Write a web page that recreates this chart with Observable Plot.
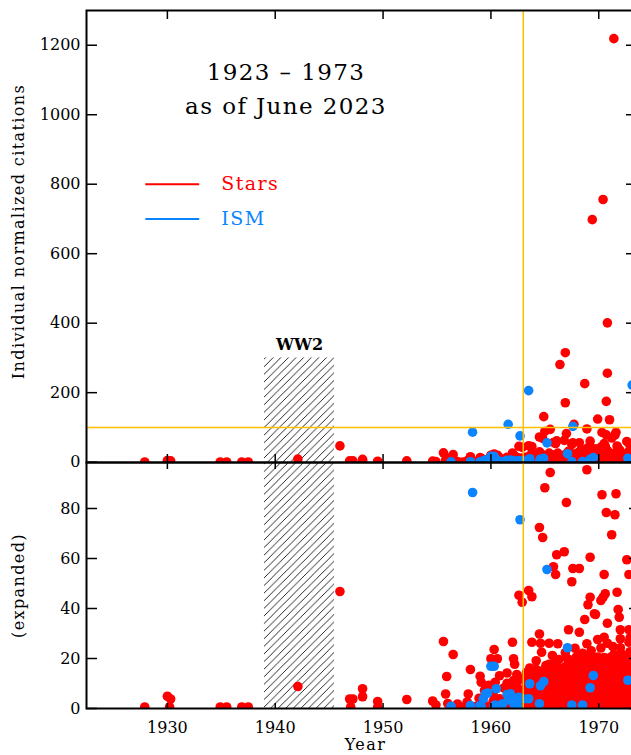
<!DOCTYPE html>
<html><head><meta charset="utf-8">
<script src="https://cdn.jsdelivr.net/npm/d3@7"></script>
<script src="https://cdn.jsdelivr.net/npm/@observablehq/plot@0.6"></script>
<style>
html,body{margin:0;padding:0;background:#fff;overflow:hidden;width:631px;height:755px;}
#wrap{position:relative;width:631px;height:755px;overflow:hidden;}
#wrap svg{position:absolute;left:0;}
</style></head><body><div id="wrap"></div>
<script>
// ---------- data ----------
const xTicks = [1930, 1940, 1950, 1960, 1970];
const topTicks = [0, 200, 400, 600, 800, 1000, 1200];
const lowTicks = [0, 20, 40, 60, 80];
const titleLines = ["1923 \u2013 1973", "as of June 2023"];
const legendLabels = ["Stars", "ISM"];
const axisTitles = ["Individual normalized citations", "(expanded)", "Year"];
const war = [{label: "WW2", start: 1939, end: 1945.5, height: 300}];
const cutYear = [1963];
const cutCites = [100];

// Stars papers: [year, normalized citations]
const stars = [
  [1927.9,0.6],[1930.0,4.9],[1930.3,3.8],[1930.2,0.6],[1934.9,0.6],[1935.5,0.6],[1936.9,0.6],[1937.5,0.6],
  [1942.1,8.8],[1946.0,46.8],[1946.9,3.8],[1947.2,3.8],[1947.0,0.6],[1948.1,7.9],[1948.1,4.7],[1949.5,2.8],
  [1949.5,0.6],[1952.2,3.6],[1954.6,3.0],[1954.9,1.4],[1955.8,5.8],[1956.0,2.0],[1955.6,26.8],[1956.5,21.6],
  [1955.9,12.8],[1957.9,5.8],[1958.1,15.6],[1959.0,12.9],[1959.1,10.5],[1960.4,10.5],[1960.3,23.6],[1960.0,19.9],
  [1960.6,19.9],[1962.1,19.9],[1962.2,17.7],[1962.0,26.5],
  [1965.5,94.4],[1968.9,95.5],[1965.0,88.3],[1970.3,85.5],[1971.6,85.9],[1967.0,82.4],[1970.7,78.4],[1971.5,77.5],
  [1964.5,72.4],[1964.8,68.4],[1971.2,69.5],[1966.1,61.5],[1966.8,62.7],[1969.2,60.5],[1972.6,59.5],[1965.8,56.7],
  [1966.0,53.6],[1967.6,56.0],[1968.2,56.0],[1970.5,53.6],[1972.8,53.6],[1967.5,50.7],[1962.6,45.3],[1962.9,42.5],
  [1963.5,47.2],[1963.8,44.7],[1969.2,44.5],[1970.4,44.5],[1970.6,45.9],[1969.0,41.5],[1971.7,46.5],[1971.8,39.6],
  [1969.7,37.6],[1968.7,35.6],[1970.8,34.1],[1972.8,31.5],[1967.2,31.5],[1968.2,30.5],[1964.5,29.8],[1972.0,31.5],
  [1972.0,27.9],[1969.9,27.6],[1970.5,28.5],[1971.3,24.8],[1972.8,26.5],[1972.9,22.7],[1968.9,25.9],[1968.2,21.2],
  [1968.5,22.1],[1963.8,26.5],[1964.6,26.1],[1965.4,26.1],[1966.2,25.9],[1964.7,22.5],[1971.9,36.5],[1971.1,20.5],
  [1969.1,21.2],[1967.9,20.5],[1967.1,19.9],[1965.4,17.7],[1966.0,18.6],[1972.1,21.9],[1970.2,43.2],[1969.6,37.9],
  [1971.4,1219],[1970.4,756],[1969.4,698],[1970.8,401],[1966.9,315],[1966.4,281],[1970.8,256],[1968.7,226],
  [1966.9,171],[1970.7,175],[1964.9,131],[1969.9,124],[1971.0,122],[1967.7,109]
];

// Dense low-citation Stars papers, by year: [year, [citations...]]
const starsDense = [
  [1956.4,[0.6]],[1956.9,[1.8]],[1957.4,[0.5]],[1957.8,[2.6]],[1958.5,[0.8]],[1958.9,[4.1]],
  [1959.4,[1.4,7.2]],[1959.8,[0.6,9.3]],[1960.2,[2.7,5.8]],[1960.8,[0.7,3.9,13.1]],[1961.2,[2.1,8.2]],
  [1961.5,[0.6,10.1,14.2]],[1961.8,[3.4,7.6]],[1962.1,[0.6,6.4,11.2]],[1962.4,[2.6,8.9,13.6]],
  [1962.7,[0.9,7.4,11.7]],[1963.0,[1.6,6.3,12.1]],[1963.3,[0.6,3.9,9.2,14.4]],[1963.6,[2.1,6.6,12.3,16.2]],
  [1963.9,[0.7,4.4,9.1,13.3]],[1964.2,[2.4,7.2,10.8,15.6,19.1]],[1964.5,[0.8,4.6,8.4,13.2]],
  [1964.8,[2.6,6.3,10.6,15.1]],[1965.1,[0.6,4.3,8.7,12.4,17.2]],[1965.4,[2.4,6.7,10.3,14.1]],
  [1965.7,[0.8,4.6,8.3,12.7,16.4,21.2]],[1966.0,[2.6,6.4,10.7,14.6]],[1966.3,[0.6,4.4,7.9,12.2,16.1,19.6]],
  [1966.6,[2.3,6.6,10.4,14.3]],[1966.9,[0.9,4.7,8.6,12.6,16.7,22.3]],[1967.2,[2.4,6.3,10.6,14.7,18.2]],
  [1967.5,[0.6,4.3,8.4,12.1,15.8]],[1967.8,[2.6,6.7,10.4,14.4,18.6,24.1]],[1968.1,[0.8,4.4,8.6,12.3,16.6]],
  [1968.4,[2.5,6.1,10.2,13.9,17.8]],[1968.7,[0.6,4.6,8.3,12.7,16.4,20.2]],[1969.0,[2.4,6.6,10.6,14.3,18.1]],
  [1969.3,[0.9,4.4,8.7,12.4,16.7,23.1]],[1969.6,[2.6,6.4,10.3,14.6,18.4]],[1969.9,[0.6,4.7,8.4,12.6,16.3,20.6]],
  [1970.2,[2.3,6.6,10.7,14.4,18.7,24.2]],[1970.5,[0.8,4.3,8.6,12.3,16.6,20.4]],[1970.8,[2.6,6.3,10.4,14.7,18.3,26.1]],
  [1971.1,[0.6,4.6,8.3,12.6,16.4]],[1971.4,[2.4,6.7,10.6,14.3,18.6,21.6]],[1971.7,[0.9,4.4,8.7,12.4,16.7,20.3]],
  [1972.0,[2.6,6.4,10.3,14.6,18.4,24.3]],[1972.3,[0.6,4.3,8.6,12.7,16.3]],[1972.6,[2.3,6.6,10.4,14.4,18.7,20.6]],
  [1972.9,[0.8,4.6,8.3,12.3,16.6,28.2]],[1973.2,[2.6,6.3,10.7,14.6]]
];

// ISM papers: [year, normalized citations]
const ism = [
  [1958.3,86.4],[1962.7,75.5],[1965.2,55.6],[1967.1,24.3],[1960.0,16.9],[1960.3,16.9],[1961.6,109],[1963.5,206],
  [1967.6,103],[1973.1,222],[1963.6,9.9],[1964.9,10.8],[1969.5,13.2],[1969.2,8.3],[1972.7,11.3],[1960.5,7.9],
  [1959.5,5.9],[1959.3,3.9],[1961.8,5.9],[1962.0,4.5],[1962.6,4.5],[1963.0,3.8],[1963.5,3.9],[1956.3,0.9],
  [1958.1,1.2],[1959.0,1.2],[1960.3,0.9],[1961.1,1.9],[1962.1,1.9],[1964.5,1.9],[1967.5,1.4],[1968.5,1.4],
  [1964.6,9.1],[1959.7,6.2],[1961.5,5.6],[1961.7,3.5],[1962.5,0.6],[1960.4,1.4],[1959.1,0.6],[1962.4,3.2]
];

// ---------- build ----------
const starsAll = stars.concat(starsDense.flatMap(([yr, vals]) => vals.map(v => [yr, v])));
const RED = "#ff0000", BLUE = "#0a84ff", ORANGE = "#ffbf00";
const FONT = "DejaVu Serif";
const xDomain = [1922.5, 1973.5];
const topDomain = [-1, 1300];
const lowDomain = [0, 98.4];
const W = 646, ML = 86, MR = 10;
const fmt = d => String(d);

function hatchDefs(svg, id) {
  d3.select(svg).insert("defs", ":first-child").html(
    `<pattern id="${id}" patternUnits="userSpaceOnUse" width="7.6" height="7.6">` +
    `<path d="M0,7.6L7.6,0M-1,1L1,-1M6.6,8.6L8.6,6.6" stroke="#111" stroke-width="0.9"/></pattern>`);
}
function spacing(svg) {
  d3.select(svg).selectAll('g[aria-label="text"] text')
    .filter(function() { return this.textContent !== "WW2"; })
    .style("letter-spacing", "1.4px");
}
const baseStyle = {fontFamily: FONT, fontSize: "16px", background: "transparent", overflow: "visible", maxWidth: "none", color: "#000"};
const dotsOpts = (c) => ({x: d => d[0], y: d => d[1], r: 4.8, fill: c, clip: true});

const topPlot = Plot.plot({
  width: W, height: 462, marginTop: 10, marginBottom: 0, marginLeft: ML, marginRight: MR,
  style: baseStyle,
  x: {domain: xDomain, axis: null},
  y: {domain: topDomain, axis: null},
  marks: [
    Plot.rect(war, {x1: "start", x2: "end", y1: topDomain[0], y2: "height", fill: "url(#hatchTop)"}),
    Plot.dot(starsAll, dotsOpts(RED)),
    Plot.dot(ism, dotsOpts(BLUE)),
    Plot.ruleX(cutYear, {stroke: ORANGE, strokeWidth: 1.5}),
    Plot.ruleY(cutCites, {stroke: ORANGE, strokeWidth: 1.5}),
    Plot.frame({stroke: "#000", strokeWidth: 2}),
    Plot.axisY({ticks: topTicks, anchor: "left", tickSize: -11, tickPadding: 17, strokeWidth: 1.5, label: null, tickFormat: fmt}),
    Plot.axisY({ticks: topTicks, anchor: "right", tickSize: -11, fill: "none", strokeWidth: 1.5, label: null}),
    Plot.axisX({ticks: xTicks, anchor: "top", tickSize: -8, fill: "none", strokeWidth: 1.5, label: null}),
    Plot.axisX({ticks: xTicks, anchor: "bottom", tickSize: -8, fill: "none", strokeWidth: 1.5, label: null}),
    Plot.text([titleLines[0]], {x: 1941, y: 1120, text: d => d, fontSize: 23, fill: "#000"}),
    Plot.text([titleLines[1]], {x: 1941, y: 1023, text: d => d, fontSize: 23, fill: "#000"}),
    Plot.ruleY([legendLabels[0]], {x1: 1928, x2: 1933, y: () => 800, stroke: RED, strokeWidth: 2}),
    Plot.ruleY([legendLabels[1]], {x1: 1928, x2: 1933, y: () => 700, stroke: BLUE, strokeWidth: 2}),
    Plot.text([legendLabels[0]], {x: 1935, y: 800, text: d => d, fontSize: 19, fill: RED, textAnchor: "start"}),
    Plot.text([legendLabels[1]], {x: 1935, y: 700, text: d => d, fontSize: 19, fill: BLUE, textAnchor: "start"}),
    Plot.text(war, {x: d => (d.start + d.end) / 2, y: d => d.height + 39, text: "label", fontSize: 16, fontWeight: "bold", fill: "#000"}),
    Plot.text([axisTitles[0]], {frameAnchor: "left", dx: -68, dy: -5, rotate: -90, textAnchor: "middle", text: d => d, fontSize: 16, fill: "#000"})
  ]
});
hatchDefs(topPlot, "hatchTop");
spacing(topPlot);
topPlot.style.top = "0px";

const lowPlot = Plot.plot({
  width: W, height: 293, marginTop: 0, marginBottom: 47, marginLeft: ML, marginRight: MR,
  style: baseStyle,
  x: {domain: xDomain, axis: null},
  y: {domain: lowDomain, axis: null},
  marks: [
    Plot.rect(war, {x1: "start", x2: "end", y1: lowDomain[0], y2: lowDomain[1], fill: "url(#hatchLow)"}),
    Plot.dot(starsAll, dotsOpts(RED)),
    Plot.dot(ism, dotsOpts(BLUE)),
    Plot.ruleX(cutYear, {stroke: ORANGE, strokeWidth: 1.5}),
    Plot.frame({stroke: "#000", strokeWidth: 2}),
    Plot.axisY({ticks: lowTicks, anchor: "left", tickSize: -11, tickPadding: 17, strokeWidth: 1.5, label: null, tickFormat: fmt}),
    Plot.axisY({ticks: lowTicks, anchor: "right", tickSize: -8, fill: "none", strokeWidth: 1.5, label: null}),
    Plot.axisX({ticks: xTicks, anchor: "top", tickSize: -6, fill: "none", strokeWidth: 1.5, label: null}),
    Plot.axisX({ticks: xTicks, anchor: "bottom", tickSize: -5, tickPadding: 18, strokeWidth: 1.5, label: null, tickFormat: fmt}),
    Plot.text([axisTitles[1]], {frameAnchor: "left", dx: -68, rotate: -90, textAnchor: "middle", text: d => d, fontSize: 16, fill: "#000"}),
    Plot.text([axisTitles[2]], {frameAnchor: "bottom", dx: 4, dy: 41, lineAnchor: "bottom", text: d => d, fontSize: 16, fill: "#000"})
  ]
});
hatchDefs(lowPlot, "hatchLow");
spacing(lowPlot);
lowPlot.style.top = "462px";

const wrap = document.getElementById("wrap");
wrap.appendChild(topPlot);
wrap.appendChild(lowPlot);
</script></body></html>
